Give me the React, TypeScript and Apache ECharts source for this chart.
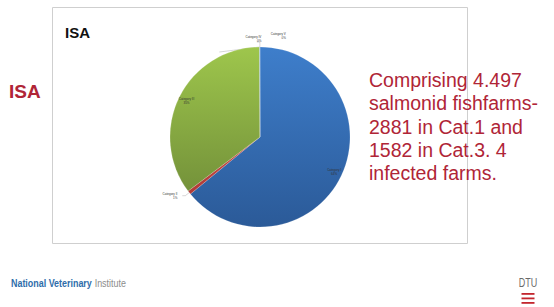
import React, { useEffect, useRef } from "react";
import * as echarts from "echarts";

const categories = ["Category I", "Category II", "Category III", "Category IV", "Category V"];
const farms = [2881, 30, 1582, 2, 2];
const sliceTop = ["#3E7ECB", "#C9504A", "#9EC64C", "#8064A2", "#4BACC6"];
const sliceBottom = ["#2B5A98", "#B03A36", "#74923A", "#6A5290", "#3A90AA"];
const chartTitle = "ISA";
const sideTitle = "ISA";
const noteLines = [
  "Comprising 4.497",
  "salmonid fishfarms-",
  "2881 in Cat.1 and",
  "1582 in Cat.3. 4",
  "infected farms.",
];
const insideLabels = [0, 2];

export default function App() {
  const ref = useRef<HTMLDivElement>(null);
  useEffect(() => {
    if (!ref.current) return;
    const chart = echarts.init(ref.current, undefined, { renderer: "svg" });
    const data = categories.map((name, i) => ({
      name,
      value: farms[i],
      itemStyle: {
        color: new echarts.graphic.LinearGradient(0, 0, 0, 1, [
          { offset: 0, color: sliceTop[i] },
          { offset: 1, color: sliceBottom[i] },
        ]),
      },
      label: { show: !insideLabels.includes(i) },
      labelLine: { show: !insideLabels.includes(i) },
    }));
    const labelData = categories.map((name, i) => ({
      name,
      value: farms[i],
      label: { show: insideLabels.includes(i) },
    }));
    const noteFont = "Liberation Sans, Arial, sans-serif";
    chart.setOption({
      animation: false,
      backgroundColor: "#ffffff",
      graphic: [
        {
          type: "rect",
          shape: { x: 52.5, y: 7.5, width: 415, height: 236 },
          style: { fill: "none", stroke: "#cfcfcf", lineWidth: 1 },
          z: 0,
        },
        {
          type: "text",
          x: 65,
          y: 32,
          style: {
            text: chartTitle,
            font: "bold 15px Liberation Sans, Arial, sans-serif",
            fill: "#111111",
            verticalAlign: "middle",
          },
        },
        {
          type: "text",
          x: 9,
          y: 91,
          style: {
            text: sideTitle,
            font: "bold 19px Liberation Sans, Arial, sans-serif",
            fill: "#B02537",
            verticalAlign: "middle",
          },
        },
        ...noteLines.map((t, i) => ({
          type: "text",
          x: 369,
          y: 80 + i * 23.3,
          style: {
            text: t,
            font: `19.5px ${noteFont}`,
            fill: "#B02537",
            verticalAlign: "middle",
          },
          z: 10,
        })),
        {
          type: "text",
          x: 11,
          y: 283,
          scaleX: 0.85,
          style: {
            text: "{a|National Veterinary} {b|Institute}",
            rich: {
              a: { font: "bold 10.5px Liberation Sans, Arial, sans-serif", fill: "#2E6DAA" },
              b: { font: "10.5px Liberation Sans, Arial, sans-serif", fill: "#8C8C8C" },
            },
            verticalAlign: "middle",
          },
        },
        {
          type: "text",
          x: 528,
          y: 282.5,
          scaleX: 0.72,
          style: {
            text: "DTU",
            font: "12.5px Liberation Sans, Arial, sans-serif",
            fill: "#6A6A6A",
            align: "center",
            verticalAlign: "middle",
          },
        },
        ...[293, 297.5, 302].map((y) => ({
          type: "rect",
          shape: { x: 521.5, y, width: 13, height: 1.8 },
          style: { fill: "#C3262E" },
        })),
      ],
      series: [
        {
          type: "pie",
          center: [260, 137],
          radius: [0, 90],
          startAngle: 90,
          clockwise: true,
          percentPrecision: 0,
          data,
          itemStyle: { borderColor: "rgba(255,255,255,0.5)", borderWidth: 0.3 },
          label: {
            position: "outside",
            formatter: "{b}\n{d}%",
            fontSize: 3,
            lineHeight: 4,
            color: "#333333",
            fontFamily: "Liberation Sans, Arial, sans-serif",
            align: "center",
          },
          labelLine: { length: 5, length2: 3, lineStyle: { color: "#999999", width: 0.4 } },
          labelLayout: (p: any) => {
            if (p.dataIndex === 3) return { dx: 47, dy: -13 };
            if (p.dataIndex === 4) return { dx: 34, dy: -6 };
            return {};
          },
          emphasis: { disabled: true },
        },
        {
          type: "pie",
          center: [260, 137],
          radius: [68, 90],
          startAngle: 90,
          clockwise: true,
          percentPrecision: 0,
          silent: true,
          data: labelData,
          itemStyle: { color: "rgba(0,0,0,0)" },
          label: {
            position: "inside",
            formatter: "{b}\n{d}%",
            fontSize: 3,
            lineHeight: 4,
            color: "#333333",
            fontFamily: "Liberation Sans, Arial, sans-serif",
          },
          labelLine: { show: false },
          emphasis: { disabled: true },
        },
      ],
    });
    return () => chart.dispose();
  }, []);
  return (
    <div
      ref={ref}
      style={{ position: "fixed", left: 0, top: 0, width: 554, height: 307 }}
    />
  );
}
